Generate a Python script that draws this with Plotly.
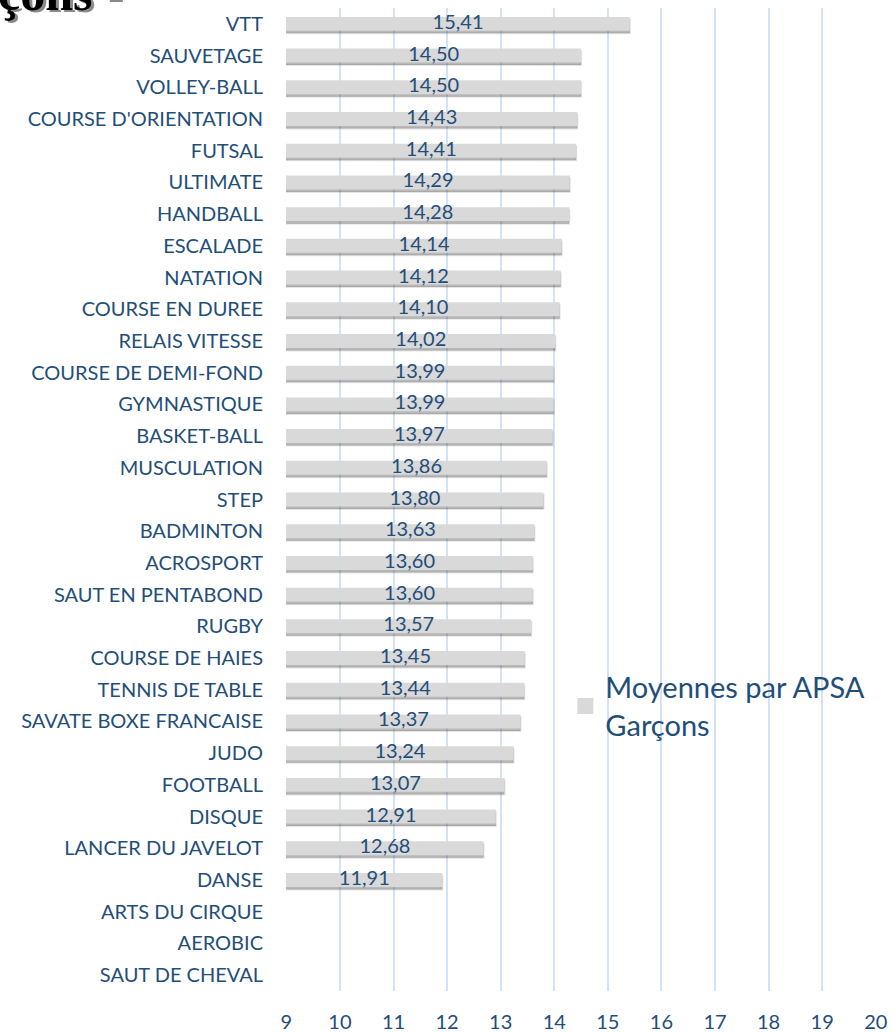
import plotly.graph_objects as go

categories = [
    "VTT", "SAUVETAGE", "VOLLEY-BALL", "COURSE D'ORIENTATION", "FUTSAL",
    "ULTIMATE", "HANDBALL", "ESCALADE", "NATATION", "COURSE EN DUREE",
    "RELAIS VITESSE", "COURSE DE DEMI-FOND", "GYMNASTIQUE", "BASKET-BALL",
    "MUSCULATION", "STEP", "BADMINTON", "ACROSPORT", "SAUT EN PENTABOND",
    "RUGBY", "COURSE DE HAIES", "TENNIS DE TABLE", "SAVATE BOXE FRANCAISE",
    "JUDO", "FOOTBALL", "DISQUE", "LANCER DU JAVELOT", "DANSE",
    "ARTS DU CIRQUE", "AEROBIC", "SAUT DE CHEVAL",
]
moyennes_garcons = [
    15.41, 14.50, 14.50, 14.43, 14.41,
    14.29, 14.28, 14.14, 14.12, 14.10,
    14.02, 13.99, 13.99, 13.97,
    13.86, 13.80, 13.63, 13.60, 13.60,
    13.57, 13.45, 13.44, 13.37,
    13.24, 13.07, 12.91, 12.68, 11.91,
    0, 0, 0,
]
x_ticks = list(range(9, 21))
series_name = "Moyennes par APSA<br>Garçons"

X_MIN, X_MAX = x_ticks[0], x_ticks[-1]
labels = [f"{v:.2f}".replace(".", ",") if v else "" for v in moyennes_garcons]
# data labels are centred on the visible part of each bar (axis starts at X_MIN)
label_x = [(X_MIN + v) / 2 if v else None for v in moyennes_garcons]

BLUE = "#1f4e79"
FONT = "Lato"
BAR_W = 0.44

fig = go.Figure()
# soft drop shadow under the bars
fig.add_trace(go.Bar(
    y=categories, x=moyennes_garcons, orientation="h",
    marker=dict(color="rgba(80,80,80,0.40)", line=dict(width=2, color="rgba(80,80,80,0.15)")),
    width=BAR_W, offset=-BAR_W / 2 + 0.08,
    showlegend=False, hoverinfo="skip",
))
fig.add_trace(go.Bar(
    y=categories, x=moyennes_garcons, orientation="h",
    name=series_name,
    marker=dict(color="#d9d9d9", line=dict(width=0)),
    width=BAR_W, offset=-BAR_W / 2,
    showlegend=False,
))
fig.add_trace(go.Scatter(
    y=categories, x=label_x, mode="text", text=labels,
    textposition="middle center",
    textfont=dict(family=FONT, size=20, color=BLUE),
    showlegend=False, hoverinfo="skip", cliponaxis=False,
))
# legend entry with a larger square swatch
fig.add_trace(go.Scatter(
    x=[None], y=[None], mode="markers", name=series_name,
    marker=dict(symbol="square", size=16, color="#d9d9d9"),
    showlegend=True,
))

fig.update_layout(
    width=893, height=1032,
    margin=dict(l=286, r=17, t=8, b=41),
    paper_bgcolor="white", plot_bgcolor="white",
    barmode="overlay",
    showlegend=True,
    legend=dict(
        x=0.4735, y=0.335, xanchor="left", yanchor="top",
        bgcolor="rgba(0,0,0,0)",
        font=dict(family=FONT, size=29, color=BLUE),
        itemsizing="trace",
    ),
    xaxis=dict(
        range=[X_MIN - 0.006, X_MAX + 0.004], tickvals=x_ticks,
        ticktext=[str(t) for t in x_ticks],
        showgrid=True, gridcolor="#d3e2f4", gridwidth=1.5,
        zeroline=False, showline=False, automargin=False,
        tickfont=dict(family=FONT, size=20, color=BLUE),
        ticklabelstandoff=17,
    ),
    yaxis=dict(
        range=[len(categories) - 0.5, -0.5],
        showgrid=False, zeroline=False, showline=False,
        automargin=False,
        tickfont=dict(family=FONT, size=20, color=BLUE),
        ticklabelstandoff=22,
    ),
    annotations=[
        dict(text="<b>çons -</b>", xref="paper", yref="paper",
             x=(-1 - 286) / 590, y=(991 - 25) / 983, xanchor="left", yanchor="bottom",
             showarrow=False,
             font=dict(family="Liberation Serif", size=50, color="#8a8a8a")),
        dict(text="<b>çons -</b>", xref="paper", yref="paper",
             x=(-4 - 286) / 590, y=(991 - 23) / 983, xanchor="left", yanchor="bottom",
             showarrow=False,
             font=dict(family="Liberation Serif", size=50, color="black")),
    ],
)

fig.write_html("out.html", config={"displayModeBar": False},
               post_script="document.body.style.margin='0';")
